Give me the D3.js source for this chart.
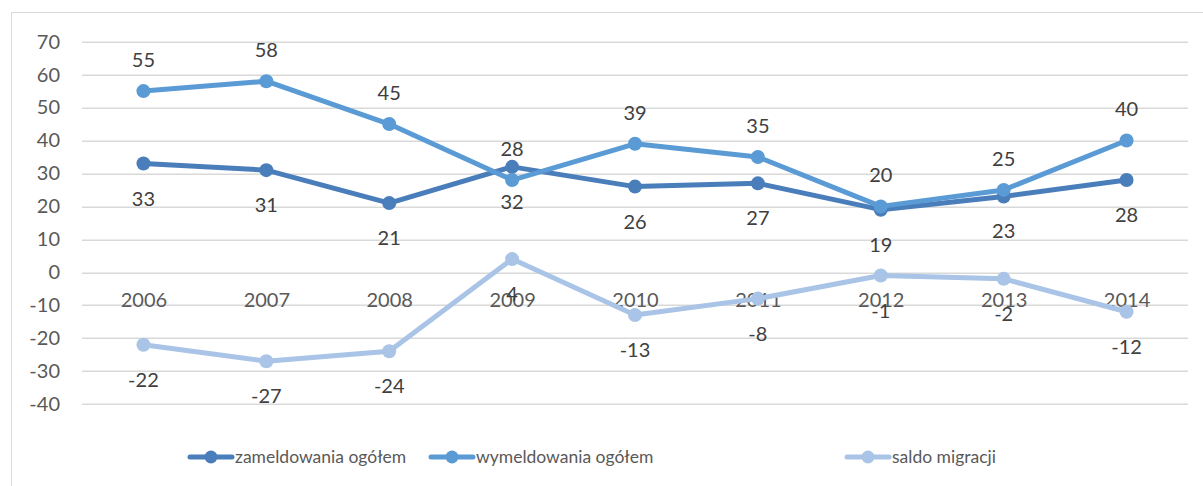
<!DOCTYPE html>
<html>
<head>
<meta charset="utf-8">
<script src="https://cdn.jsdelivr.net/npm/d3@7"></script>
<style>
  body { margin: 0; background: #fff; }
  text { font-family: Lato, "Open Sans", sans-serif; }
</style>
</head>
<body>
<div id="chart"></div>
<script>
var years = ["2006", "2007", "2008", "2009", "2010", "2011", "2012", "2013", "2014"];
var zameldowania = [33, 31, 21, 32, 26, 27, 19, 23, 28];
var wymeldowania = [55, 58, 45, 28, 39, 35, 20, 25, 40];
var saldo = [-22, -27, -24, 4, -13, -8, -1, -2, -12];
var yTicks = [70, 60, 50, 40, 30, 20, 10, 0, -10, -20, -30, -40];

var svgWidth = 1203;
var svgHeight = 486;

var margin = { top: 41.7, right: 15, bottom: 82, left: 82 };
var width = 1188 - margin.left;
var height = 404 - margin.top;
var fontSize = "20px";
var legendFontSize = "17.5px";

var series = [
  { name: "zameldowania ogółem", values: zameldowania, color: "#4a7ebb", labelPos: "below", legendX: 190 },
  { name: "wymeldowania ogółem", values: wymeldowania, color: "#5b9bd5", labelPos: "above", legendX: 431 },
  { name: "saldo migracji", values: saldo, color: "#a9c4e6", labelPos: "below", legendX: 847 }
];

var svg = d3.select("#chart")
  .append("svg")
  .attr("width", svgWidth)
  .attr("height", svgHeight);

// chart frame
svg.append("rect")
  .attr("x", 11.5)
  .attr("y", 12.5)
  .attr("width", 1200)
  .attr("height", 490)
  .attr("fill", "none")
  .attr("stroke", "#d9d9d9")
  .attr("stroke-width", 1);

var chartGroup = svg.append("g")
  .attr("transform", `translate(${margin.left}, ${margin.top})`);

var xScale = d3.scalePoint()
  .domain(years)
  .range([0, width])
  .padding(0.5);

var yScale = d3.scaleLinear()
  .domain([-40, 70])
  .range([height, 0]);

// gridlines
chartGroup.selectAll("line.grid")
  .data(yTicks)
  .enter()
  .append("line")
  .attr("class", "grid")
  .attr("x1", 0)
  .attr("x2", width)
  .attr("y1", d => Math.round(yScale(d)) + 0.5)
  .attr("y2", d => Math.round(yScale(d)) + 0.5)
  .attr("stroke", "#d9d9d9")
  .attr("stroke-width", 1.5);

// y axis labels (plain hyphen for negatives, like the original)
var leftAxis = d3.axisLeft(yScale)
  .tickValues(yTicks)
  .tickFormat(d => String(d))
  .tickSize(0)
  .tickPadding(22);
chartGroup.append("g")
  .call(leftAxis)
  .call(g => g.select(".domain").remove())
  .selectAll("text")
  .attr("font-size", fontSize)
  .attr("font-family", "Lato, sans-serif")
  .attr("fill", "#595959");

// x category labels sit just below the zero line
var bottomAxis = d3.axisBottom(xScale).tickSize(0).tickPadding(21);
chartGroup.append("g")
  .attr("transform", `translate(0, ${yScale(0)})`)
  .call(bottomAxis)
  .call(g => g.select(".domain").remove())
  .selectAll("text")
  .attr("font-size", fontSize)
  .attr("font-family", "Lato, sans-serif")
  .attr("fill", "#595959");

var line = d3.line()
  .x((d, i) => xScale(years[i]))
  .y(d => yScale(d));

series.forEach(s => {
  chartGroup.append("path")
    .datum(s.values)
    .attr("d", line)
    .attr("fill", "none")
    .attr("stroke", s.color)
    .attr("stroke-width", 5)
    .attr("stroke-linejoin", "round")
    .attr("stroke-linecap", "round");

  chartGroup.selectAll(null)
    .data(s.values)
    .enter()
    .append("circle")
    .attr("cx", (d, i) => xScale(years[i]))
    .attr("cy", d => yScale(d))
    .attr("r", 7)
    .attr("fill", s.color);
});

series.forEach(s => {
  chartGroup.selectAll(null)
    .data(s.values)
    .enter()
    .append("text")
    .attr("x", (d, i) => xScale(years[i]))
    .attr("y", d => yScale(d) + (s.labelPos === "above" ? -31 : 35))
    .attr("dy", "0.35em")
    .attr("text-anchor", "middle")
    .attr("font-size", fontSize)
    .attr("fill", "#404040")
    .text(d => d);
});

// legend
var legend = svg.append("g");
series.forEach(s => {
  var g = legend.append("g").attr("transform", `translate(${s.legendX}, 457)`);
  g.append("line")
    .attr("x1", 0).attr("x2", 42)
    .attr("y1", 0).attr("y2", 0)
    .attr("stroke", s.color)
    .attr("stroke-width", 5)
    .attr("stroke-linecap", "round");
  g.append("circle")
    .attr("cx", 21).attr("cy", 0).attr("r", 6.5)
    .attr("fill", s.color);
  g.append("text")
    .attr("x", 45)
    .attr("y", 0)
    .attr("dy", "0.35em")
    .attr("font-size", legendFontSize)
    .attr("fill", "#595959")
    .text(s.name);
});
</script>
</body>
</html>
